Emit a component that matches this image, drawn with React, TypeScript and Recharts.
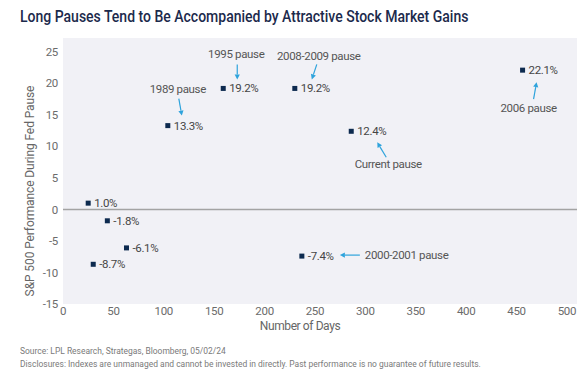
import React from 'react';
import { ScatterChart, Scatter, XAxis, YAxis, CartesianGrid, ReferenceLine } from 'recharts';

// Fed pause length (days) vs S&P 500 return during the pause
const days = [25, 30, 44, 63, 104, 159, 230, 237, 286, 456];
const returns = [1.0, -8.7, -1.8, -6.1, 13.3, 19.2, 19.2, -7.4, 12.4, 22.1];
const pauseNames = ['', '', '', '', '1989 pause', '1995 pause', '2008-2009 pause', '2000-2001 pause', 'Current pause', '2006 pause'];
const xTicks = [0, 50, 100, 150, 200, 250, 300, 350, 400, 450, 500];
const yTicks = [-15, -10, -5, 0, 5, 10, 15, 20, 25];

const points = days.map((d, i) => ({ days: d, ret: returns[i], name: pauseNames[i] }));

const NAVY = '#0d2a4f';
const ARROW = '#2ea3dc';
const FONT = 'Roboto, sans-serif';

// callout placement relative to the marker: text offset + arrow from/to
const notes: Record<string, { tx: number; ty: number; anchor: string; a: number[] }> = {
  '1989 pause': { tx: 10, ty: -37, anchor: 'middle', a: [11, -27, 14, -10] },
  '1995 pause': { tx: 13, ty: -34, anchor: 'middle', a: [14, -24, 14, -9] },
  '2008-2009 pause': { tx: 24, ty: -32, anchor: 'middle', a: [22, -24, 17, -9] },
  '2006 pause': { tx: 6, ty: 38, anchor: 'middle', a: [11, 29, 14, 12] },
  'Current pause': { tx: 37, ty: 33, anchor: 'middle', a: [35, 26, 26, 11] },
  '2000-2001 pause': { tx: 63, ty: -1, anchor: 'start', a: [58, -1, 38, -1] },
};

const textStyle = { letterSpacing: -0.35 };

function Arrow({ x1, y1, x2, y2 }: { x1: number; y1: number; x2: number; y2: number }) {
  const ang = Math.atan2(y2 - y1, x2 - x1);
  const len = 5;
  const w = 2.6;
  const bx = x2 - len * Math.cos(ang);
  const by = y2 - len * Math.sin(ang);
  const px = -Math.sin(ang) * w;
  const py = Math.cos(ang) * w;
  return (
    <g>
      <line x1={x1} y1={y1} x2={bx} y2={by} stroke={ARROW} strokeWidth={1.2} />
      <polygon points={`${x2},${y2} ${bx + px},${by + py} ${bx - px},${by - py}`} fill={ARROW} />
    </g>
  );
}

function PauseMarker(props: any) {
  const { cx, cy, payload } = props;
  const note = notes[payload.name];
  return (
    <g>
      <rect x={cx - 2.5} y={cy - 2.5} width={5} height={5} fill={NAVY} />
      <text x={cx + 6} y={cy + 4} fontSize={11.5} fill="#454545" fontFamily={FONT} style={textStyle}>
        {payload.ret.toFixed(1)}%
      </text>
      {note && (
        <g>
          <text
            x={cx + note.tx}
            y={cy + note.ty + 4}
            textAnchor={note.anchor}
            fontSize={11.5}
            fill="#555"
            fontFamily={FONT}
            style={textStyle}
          >
            {payload.name}
          </text>
          <Arrow x1={cx + note.a[0]} y1={cy + note.a[1]} x2={cx + note.a[2]} y2={cy + note.a[3]} />
        </g>
      )}
    </g>
  );
}

export default function App() {
  const tick = { fill: '#6b6b6b', fontSize: 11.5, fontFamily: FONT, letterSpacing: -0.3 };
  return (
    <div style={{ position: 'absolute', left: 0, top: 0, width: 588, height: 374, background: '#fff', fontFamily: FONT }}>
      <div
        style={{
          position: 'absolute',
          left: 20,
          top: 7,
          fontSize: 16,
          fontWeight: 500,
          color: '#1c2a4c',
          whiteSpace: 'nowrap',
          transform: 'scaleX(0.875)',
          transformOrigin: 'left center',
        }}
      >
        Long Pauses Tend to Be Accompanied by Attractive Stock Market Gains
      </div>
      <ScatterChart width={588} height={374} margin={{ top: 38, right: 11, bottom: 40, left: 0 }}>
        <CartesianGrid fill="#f1f1f6" horizontal={false} vertical={false} stroke="none" />
        <XAxis
          type="number"
          dataKey="days"
          domain={[0, 510]}
          ticks={xTicks}
          allowDataOverflow
          axisLine={false}
          tickLine={false}
          tickSize={0}
          tickMargin={3}
          height={30}
          tick={tick}
        />
        <YAxis
          type="number"
          dataKey="ret"
          domain={[-15, 27.2]}
          ticks={yTicks}
          allowDataOverflow
          axisLine={false}
          tickLine={false}
          tickSize={0}
          tickMargin={5}
          width={63}
          tick={tick}
        />
        <ReferenceLine y={0} stroke="#a3a3a3" strokeWidth={1.5} />
        <Scatter data={points} shape={PauseMarker} isAnimationActive={false} />
      </ScatterChart>
      <div
        style={{
          position: 'absolute',
          left: 30,
          top: 191,
          transform: 'translate(-50%, -50%) rotate(-90deg)',
          fontSize: 12,
          color: '#666',
          whiteSpace: 'nowrap',
          letterSpacing: -0.1,
        }}
      >
        S&amp;P 500 Performance During Fed Pause
      </div>
      <div
        style={{
          position: 'absolute',
          left: 300,
          top: 326,
          transform: 'translate(-50%, -50%)',
          fontSize: 12,
          color: '#666',
          whiteSpace: 'nowrap',
          letterSpacing: -0.4,
        }}
      >
        Number of Days
      </div>
      <div
        style={{
          position: 'absolute',
          left: 20,
          top: 345,
          fontSize: 9.5,
          lineHeight: '12.5px',
          color: '#7a7a7a',
          whiteSpace: 'nowrap',
          transform: 'scaleX(0.89)',
          transformOrigin: 'left center',
        }}
      >
        <div>Source: LPL Research, Strategas, Bloomberg, 05/02/24</div>
        <div>Disclosures: Indexes are unmanaged and cannot be invested in directly. Past performance is no guarantee of future results.</div>
      </div>
    </div>
  );
}
